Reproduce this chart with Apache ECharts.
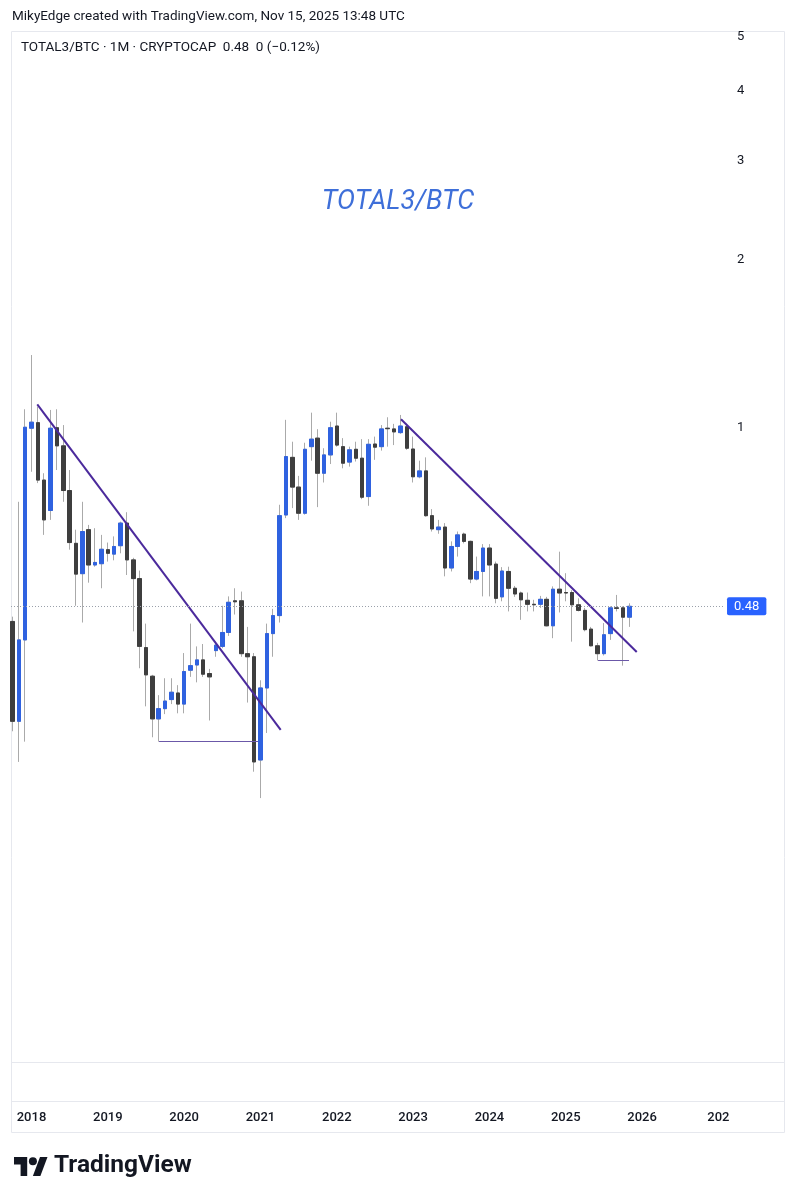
<!DOCTYPE html>
<html>
<head>
<meta charset="utf-8">
<script src="https://cdn.jsdelivr.net/npm/echarts@6/dist/echarts.min.js"></script>
<style>
html,body{margin:0;padding:0;background:#ffffff;}
#chart{width:796px;height:1200px;}
</style>
</head>
<body>
<div id="chart"></div>
<script>
// ---------------- DATA ----------------
const months = [
  '2017-10','2017-11','2017-12',
  '2018-01','2018-02','2018-03','2018-04','2018-05','2018-06','2018-07','2018-08','2018-09','2018-10','2018-11','2018-12',
  '2019-01','2019-02','2019-03','2019-04','2019-05','2019-06','2019-07','2019-08','2019-09','2019-10','2019-11','2019-12',
  '2020-01','2020-02','2020-03','2020-04','2020-05','2020-06','2020-07','2020-08','2020-09','2020-10','2020-11','2020-12',
  '2021-01','2021-02','2021-03','2021-04','2021-05','2021-06','2021-07','2021-08','2021-09','2021-10','2021-11','2021-12',
  '2022-01','2022-02','2022-03','2022-04','2022-05','2022-06','2022-07','2022-08','2022-09','2022-10','2022-11','2022-12',
  '2023-01','2023-02','2023-03','2023-04','2023-05','2023-06','2023-07','2023-08','2023-09','2023-10','2023-11','2023-12',
  '2024-01','2024-02','2024-03','2024-04','2024-05','2024-06','2024-07','2024-08','2024-09','2024-10','2024-11','2024-12',
  '2025-01','2025-02','2025-03','2025-04','2025-05','2025-06','2025-07','2025-08','2025-09','2025-10','2025-11'
];
const opens = [
  0.451,0.299,0.418,
  0.999,1.022,0.807,0.712,1.001,0.929,0.773,0.622,0.549,0.658,0.569,0.572,
  0.606,0.595,0.616,0.676,0.581,0.538,0.405,0.360,0.302,0.315,0.327,0.336,
  0.321,0.369,0.377,0.385,0.364,0.400,0.407,0.431,0.491,0.491,0.395,0.390,
  0.255,0.343,0.429,0.462,0.699,0.886,0.784,0.704,0.926,0.959,0.830,0.895,
  1.008,0.926,0.869,0.916,0.883,0.754,0.936,0.926,0.999,0.996,0.981,1.005,
  0.917,0.818,0.838,0.697,0.658,0.665,0.562,0.614,0.646,0.627,0.537,0.554,
  0.610,0.571,0.499,0.554,0.517,0.507,0.492,0.484,0.484,0.494,0.443,0.515,
  0.508,0.508,0.483,0.472,0.437,0.408,0.395,0.429,0.477,0.477,0.459
];
const closes = [
  0.299,0.418,1.003,
  1.024,0.807,0.685,0.999,0.929,0.773,0.624,0.548,0.653,0.569,0.575,0.607,
  0.597,0.614,0.676,0.581,0.538,0.407,0.362,0.302,0.315,0.325,0.337,0.321,
  0.367,0.376,0.385,0.363,0.359,0.409,0.431,0.488,0.489,0.395,0.390,0.253,
  0.343,0.429,0.462,0.697,0.889,0.784,0.704,0.916,0.955,0.830,0.895,1.001,
  0.932,0.865,0.914,0.883,0.752,0.935,0.924,0.996,0.997,0.984,1.008,0.920,
  0.818,0.838,0.697,0.660,0.665,0.562,0.614,0.644,0.627,0.537,0.554,0.610,
  0.569,0.496,0.555,0.517,0.505,0.493,0.484,0.483,0.494,0.443,0.515,0.507,
  0.507,0.483,0.472,0.436,0.408,0.395,0.427,0.477,0.476,0.459,0.480
];
const lows = [
  0.287,0.253,0.275,
  0.835,0.797,0.644,0.685,0.841,0.738,0.606,0.481,0.449,0.529,0.565,0.517,
  0.577,0.580,0.597,0.546,0.433,0.372,0.318,0.280,0.275,0.308,0.321,0.309,
  0.309,0.359,0.351,0.359,0.300,0.390,0.404,0.425,0.464,0.390,0.323,0.243,
  0.218,0.285,0.390,0.449,0.690,0.719,0.685,0.700,0.874,0.722,0.799,0.862,
  0.926,0.847,0.853,0.871,0.746,0.726,0.877,0.911,0.926,0.932,0.976,0.914,
  0.799,0.813,0.694,0.653,0.647,0.543,0.554,0.589,0.622,0.528,0.534,0.500,
  0.500,0.486,0.490,0.470,0.499,0.454,0.470,0.470,0.477,0.442,0.421,0.468,
  0.490,0.415,0.470,0.433,0.407,0.384,0.392,0.418,0.470,0.376,0.441
];
const highs = [
  0.460,0.738,1.080,
  1.350,1.092,0.830,1.077,1.080,1.012,0.841,0.658,0.738,0.671,0.662,0.644,
  0.624,0.640,0.680,0.707,0.586,0.556,0.447,0.362,0.333,0.357,0.357,0.347,
  0.396,0.447,0.407,0.411,0.371,0.415,0.481,0.500,0.517,0.510,0.441,0.396,
  0.354,0.447,0.475,0.729,1.034,0.945,0.821,0.941,1.065,0.995,0.920,1.026,
  1.065,0.959,0.926,0.945,0.955,0.955,0.965,1.012,1.045,1.017,1.055,1.017,
  0.965,0.874,0.886,0.716,0.685,0.676,0.627,0.653,0.650,0.629,0.589,0.620,
  0.620,0.577,0.564,0.565,0.522,0.510,0.508,0.493,0.501,0.499,0.521,0.601,
  0.550,0.513,0.496,0.477,0.441,0.413,0.448,0.480,0.503,0.480,0.486
];
const yearTicks = [2018,2019,2020,2021,2022,2023,2024,2025,2026,2027];
const yearTickLabels = ['2018','2019','2020','2021','2022','2023','2024','2025','2026','202'];
const priceTicks = [1,2,3,4,5];
const lastPrice = 0.48;
// drawings: [monthIndex (0 = Jan 2018), value]
const trendLines = [
  [[0.91, 1.102], [39.18, 0.2886]],
  [[58.10, 1.0365], [95.16, 0.3978]]
];
const levelLines = [
  [[20.05, 0.275], [35.61, 0.275]],
  [[89.08, 0.3841], [93.95, 0.3841]]
];

// ---------------- BUILD ----------------
const monthIdx = months.map(m => {
  const [y, mo] = m.split('-').map(Number);
  return (y - 2018) * 12 + (mo - 1);
});
const fullCandles = monthIdx.map((x, i) => [x, opens[i], closes[i], lows[i], highs[i]]);
const bodies = monthIdx.map((x, i) => [x, opens[i], closes[i], Math.min(opens[i], closes[i]), Math.max(opens[i], closes[i])]);
const tickIdx = yearTicks.map(y => (y - 2018) * 12);

const X_MIN = -3.223, X_MAX = 118.47;
const Y_MIN = 0.07358, Y_MAX = 5.1228;
const PRICE_LINE_END = 109.04;

const BLUE = '#2f62e0', DARK = '#3e3e3e', WICK = '#aaaaaa';
const TREND = '#4b2a9c', LEVEL = '#6b58a8';

const markLineData = [];
trendLines.forEach(l => markLineData.push([
  {coord: l[0], lineStyle: {color: TREND, width: 2, type: 'solid'}},
  {coord: l[1]}
]));
levelLines.forEach(l => markLineData.push([
  {coord: l[0], lineStyle: {color: LEVEL, width: 1, type: 'solid'}},
  {coord: l[1]}
]));

const chart = echarts.init(document.getElementById('chart'), null, {renderer: 'canvas'});
chart.setOption({
  animation: false,
  backgroundColor: '#ffffff',
  grid: {left: 11, right: 11, top: 31, bottom: 138, containLabel: false, outerBoundsMode: 'none'},
  xAxis: {
    type: 'value', min: X_MIN, max: X_MAX,
    axisLine: {show: false}, axisTick: {show: false}, splitLine: {show: false},
    axisLabel: {
      customValues: tickIdx,
      formatter: v => yearTickLabels[tickIdx.indexOf(Math.round(v))] || '',
      margin: 49, color: '#131722', fontSize: 13, fontWeight: 500, fontFamily: 'Roboto'
    }
  },
  yAxis: {
    type: 'log', logBase: 10, min: Y_MIN, max: Y_MAX, position: 'right', offset: -50,
    axisLine: {show: false}, axisTick: {show: false}, splitLine: {show: false},
    axisLabel: {
      customValues: priceTicks, margin: 2, color: '#131722', fontSize: 13,
      fontFamily: 'Roboto', padding: [4, 0, 0, 0], formatter: v => String(Math.round(v))
    }
  },
  series: [
    {
      type: 'candlestick', name: 'wicks', data: fullCandles,
      encode: {x: 0, y: [1, 2, 3, 4]},
      barWidth: 4, silent: true,
      itemStyle: {color: WICK, color0: WICK, borderColor: WICK, borderColor0: WICK, borderWidth: 1},
      markLine: {
        silent: true, symbol: ['none', 'none'], animation: false,
        label: {show: false}, emphasis: {disabled: true},
        data: markLineData
      }
    },
    {
      type: 'candlestick', name: 'TOTAL3/BTC', data: bodies,
      encode: {x: 0, y: [1, 2, 3, 4]},
      barWidth: 4, silent: true,
      itemStyle: {color: BLUE, color0: DARK, borderColor: BLUE, borderColor0: DARK, borderWidth: 1},
      markLine: {
        silent: true, symbol: ['none', 'none'], animation: false,
        data: [[
          {coord: [X_MIN, lastPrice], lineStyle: {color: '#9aa0aa', width: 1, type: [1, 2]}},
          {coord: [PRICE_LINE_END, lastPrice]}
        ]],
        label: {
          show: true, position: 'end', distance: 2, formatter: lastPrice.toFixed(2),
          backgroundColor: '#2962ff', color: '#ffffff', fontSize: 13, fontFamily: 'Roboto',
          padding: [3, 7, 2, 7], borderRadius: 2
        }
      }
    }
  ],
  graphic: [
    {type: 'rect', shape: {x: 11.5, y: 31.5, width: 773, height: 1101}, style: {fill: 'none', stroke: '#e6e8ee', lineWidth: 1}, z: -1, silent: true},
    {type: 'line', shape: {x1: 11.5, y1: 1062.5, x2: 784.5, y2: 1062.5}, style: {stroke: '#e6e8ee', lineWidth: 1}, silent: true},
    {type: 'line', shape: {x1: 11.5, y1: 1101.5, x2: 784.5, y2: 1101.5}, style: {stroke: '#e6e8ee', lineWidth: 1}, silent: true},
    {type: 'text', x: 12, y: 17, style: {text: 'MikyEdge created with TradingView.com, Nov 15, 2025 13:48 UTC', font: '13.5px Roboto', fill: '#131722', textVerticalAlign: 'middle'}, silent: true},
    {type: 'text', x: 21, y: 48, style: {text: 'TOTAL3/BTC · 1M · CRYPTOCAP  0.48  0 (\u22120.12%)', font: '13.5px Roboto', fill: '#131722', textVerticalAlign: 'middle'}, silent: true},
    {type: 'text', x: 398, y: 202, style: {text: 'TOTAL3/BTC', font: 'italic 27px Roboto', fill: '#3e6fd9', textAlign: 'center', textVerticalAlign: 'middle'}, silent: true},
    {type: 'polygon', shape: {points: [[14,1157],[27.2,1157],[27.2,1176],[20.6,1176],[20.6,1164.4],[14,1164.4]]}, style: {fill: '#131722'}, silent: true},
    {type: 'circle', shape: {cx: 32.9, cy: 1161.2, r: 4}, style: {fill: '#131722'}, silent: true},
    {type: 'polygon', shape: {points: [[40.4,1176],[32.9,1176],[40,1157],[47.5,1157]]}, style: {fill: '#131722'}, silent: true},
    {type: 'text', x: 54, y: 1166, style: {text: 'TradingView', font: 'bold 24.5px Roboto', fill: '#131722', textVerticalAlign: 'middle'}, silent: true}
  ]
});
</script>
</body>
</html>
